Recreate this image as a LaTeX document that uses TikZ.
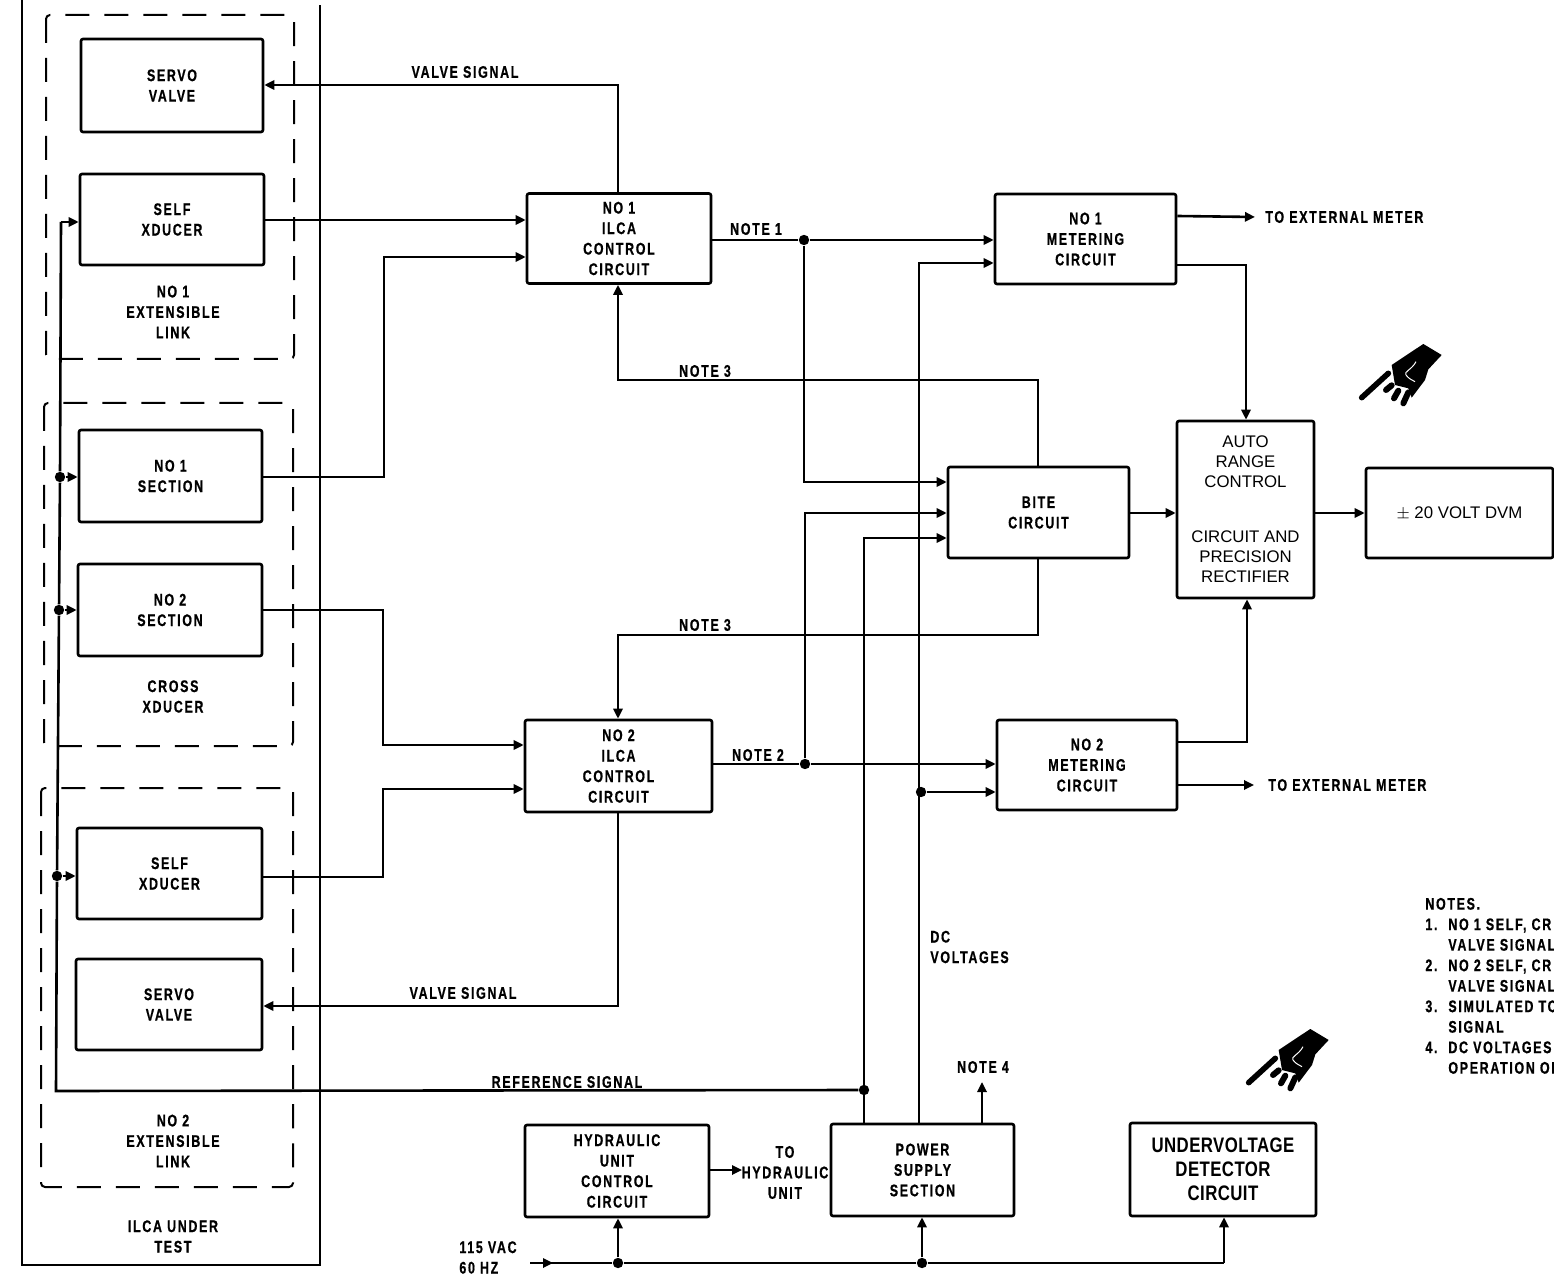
\documentclass[tikz,border=0pt]{standalone}
\usepackage{fontspec}
\setmainfont{Liberation Sans}
\newfontfamily\lblfont{Liberation Sans}[FakeStretch=0.74,LetterSpace=10,BoldFeatures={FakeBold=0.7}]
\newfontfamily\bigfont{Liberation Sans}[FakeStretch=0.8,LetterSpace=2]
\usetikzlibrary{arrows.meta}
\tikzset{
  wire/.style={line width=1.3pt,line join=miter},
  arr/.style={wire,-{Triangle[length=5pt,width=4.6pt]}},
  lbl/.style={font=\lblfont\fontsize{8.4}{10.25}\selectfont\bfseries,align=center,inner sep=0pt},
  box/.style 2 args={draw,line width=1.3pt,rounded corners=1pt,minimum width=#1*0.5pt,minimum height=#2*0.5pt,inner sep=0pt,lbl},
  plainbox/.style 2 args={box={#1}{#2},font=\fontsize{8.4}{10}\selectfont},
  bigbox/.style 2 args={box={#1}{#2},font=\bigfont\fontsize{10.5}{12}\selectfont\bfseries},
  jdot/.style={circle,fill=black,draw=none,minimum size=5.2pt,inner sep=0pt},
  dashbox/.style={draw,line width=1pt,dash pattern=on 12pt off 7.5pt,rounded corners=2pt},
}
\newcommand{\handicon}[2]{%
  \begin{scope}[shift={(#1,#2)},x=0.16667pt,y=-0.16667pt]
    \fill (250,42)--(305,75)--(265,118)--(255,150)--(215,203)--(205,175)--(165,165)--(155,105)--(215,65)--cycle;
    \draw[line width=2.8pt,line cap=round] (65,203)--(145,130);
    \draw[line width=3pt,line cap=round] (138,180)--(155,166);
    \draw[line width=3pt,line cap=round] (162,205)--(175,182);
    \draw[line width=3pt,line cap=round] (190,220)--(205,187);
    \draw[white,line width=0.5pt] (228,95)..controls (215,120) and (190,125) ..(198,135)..controls (205,145) and (215,150) ..(225,155);
  \end{scope}}
\begin{document}
\begin{tikzpicture}[x=0.5pt,y=-0.5pt]
\useasboundingbox (0,0) rectangle (1554,1278);
\clip (0,0) rectangle (1554,1278);

% enclosing outline and dashed groups
\coordinate (ta) at (22,0);
\coordinate (tb) at (22,1265);
\coordinate (tc) at (320,1265);
\coordinate (td) at (320,5);
\draw[line width=1pt] (ta)--(tb)--(tc)--(td);
\draw[dashbox] (46,15) rectangle (294,359);
\draw[dashbox] (44,403) rectangle (293,746);
\draw[dashbox] (41,788) rectangle (293,1187);

% boxes
\node[box={182}{93}] (servoA) at (172,85.5) {SERVO\\VALVE};
\node[box={184}{91}] (selfA) at (172,219.5) {SELF\\XDUCER};
\node[box={183}{92}] (secA) at (170.5,476) {NO 1\\SECTION};
\node[box={184}{92}] (secB) at (170,610) {NO 2\\SECTION};
\node[box={185}{91}] (selfB) at (169.5,873.5) {SELF\\XDUCER};
\node[box={186}{91}] (servoB) at (169,1004.5) {SERVO\\VALVE};
\node[box={184}{90}] (ilcaA) at (619,238.5) {NO 1\\ILCA\\CONTROL\\CIRCUIT};
\node[box={187}{92}] (ilcaB) at (618.5,766) {NO 2\\ILCA\\CONTROL\\CIRCUIT};
\node[box={181}{90}] (metA) at (1085.5,239) {NO 1\\METERING\\CIRCUIT};
\node[box={180}{90}] (metB) at (1087,765) {NO 2\\METERING\\CIRCUIT};
\node[box={181}{91}] (bite) at (1038.5,512.5) {BITE\\CIRCUIT};
\node[plainbox={137}{177},align=center] (auto) at (1245.5,509.5) {AUTO\\RANGE\\CONTROL\\[17.5pt]CIRCUIT AND\\PRECISION\\RECTIFIER};
\node[plainbox={187}{90}] (dvm) at (1459.5,513) {$\pm$ 20 VOLT DVM};
\node[box={184}{92}] (hyd) at (617,1171) {HYDRAULIC\\UNIT\\CONTROL\\CIRCUIT};
\node[box={183}{92}] (psu) at (922.5,1170) {POWER\\SUPPLY\\SECTION};
\node[bigbox={186}{93}] (uv) at (1223,1169.5) {UNDERVOLTAGE\\DETECTOR\\CIRCUIT};

% free labels
\node[lbl] (lA) at (173,312) {NO 1\\EXTENSIBLE\\LINK};
\node[lbl] (lB) at (173,696.5) {CROSS\\XDUCER};
\node[lbl] (lC) at (173,1141) {NO 2\\EXTENSIBLE\\LINK};
\node[lbl] (lD) at (173,1236.5) {ILCA UNDER\\TEST};
\node[lbl] (vsA) at (465,72) {VALVE SIGNAL};
\node[lbl] (vsB) at (463,993) {VALVE SIGNAL};
\node[lbl] (n1) at (756,229) {NOTE 1};
\node[lbl] (n2) at (758,755) {NOTE 2};
\node[lbl] (n3a) at (705,371) {NOTE 3};
\node[lbl] (n3b) at (705,625) {NOTE 3};
\node[lbl,anchor=west] (extA) at (1265,217) {TO EXTERNAL METER};
\node[lbl,anchor=west] (extB) at (1268,785) {TO EXTERNAL METER};
\node[lbl,anchor=west,align=left] (dc) at (930,947) {DC\\VOLTAGES};
\node[lbl] (n4) at (983,1067) {NOTE 4};
\node[lbl] (ref) at (567,1082) {REFERENCE SIGNAL};
\node[lbl] (tohyd) at (785,1172.5) {TO\\HYDRAULIC\\UNIT};
\node[lbl,anchor=west,align=left] (vac) at (459,1257.5) {115 VAC\\60 HZ};
\node[lbl,anchor=north west,align=left] (notes) at (1425,897.5) {NOTES.\\
  \makebox[11.5pt][l]{1.}NO 1 SELF, CR\\
  \makebox[11.5pt][l]{}VALVE SIGNAL\\
  \makebox[11.5pt][l]{2.}NO 2 SELF, CR\\
  \makebox[11.5pt][l]{}VALVE SIGNAL\\
  \makebox[11.5pt][l]{3.}SIMULATED TO\\
  \makebox[11.5pt][l]{}SIGNAL\\
  \makebox[11.5pt][l]{4.}DC VOLTAGES F\\
  \makebox[11.5pt][l]{}OPERATION OF};

% junctions
\node[jdot] (jA) at (804,240) {};
\node[jdot] (jB) at (805,764) {};
\node[jdot] (jP) at (921,792) {};
\node[jdot] (jR) at (864,1090) {};
\node[jdot] (jH) at (618,1263) {};
\node[jdot] (jS) at (922,1263) {};
\node[jdot] (bA) at (60,477) {};
\node[jdot] (bB) at (59,610) {};
\node[jdot] (bC) at (57,876) {};
\coordinate (bT) at (61,222);
\coordinate (bE) at (56,1091);

% reference bus
\draw[wire] (bT)--(bA)--(bB)--(bC)--(bE)--(jR);
\draw[arr] (bT)--(selfA.west |- bT);
\draw[arr] (bA)--(secA.west |- bA);
\draw[arr] (bB)--(secB.west |- bB);
\draw[arr] (bC)--(selfB.west |- bC);

% ILCA connections
\draw[arr] (ilcaA.north -| 618,0)--(618,85)--(servoA.east |- 0,85);
\draw[arr] (selfA.east |- 0,220)--(ilcaA.west |- 0,220);
\draw[arr] (secA.east |- 0,477)--(384,477)--(384,257)--(ilcaA.west |- 0,257);
\draw[arr] (secB.east |- 0,610)--(383,610)--(383,745)--(ilcaB.west |- 0,745);
\draw[arr] (selfB.east |- 0,877)--(383,877)--(383,789)--(ilcaB.west |- 0,789);
\draw[arr] (ilcaB.south -| 618,0)--(618,1006)--(servoB.east |- 0,1006);

% control to metering and BITE
\draw[wire] (ilcaA.east |- jA)--(jA);
\draw[arr] (jA)--(metA.west |- jA);
\draw[arr] (jA)--(804,482)--(bite.west |- 0,482);
\draw[wire] (ilcaB.east |- jB)--(jB);
\draw[arr] (jB)--(metB.west |- jB);
\draw[arr] (jB)--(805,513)--(bite.west |- 0,513);

% power supply
\draw[arr] (psu.north -| 919,0)--(919,263)--(metA.west |- 0,263);
\draw[arr] (jP)--(metB.west |- jP);
\draw[arr] (psu.north -| 864,0)--(864,538)--(bite.west |- 0,538);
\draw[arr] (psu.north -| 982,0)--(982,1082);

% BITE notes
\draw[arr] (bite.north -| 1038,0)--(1038,380)--(618,380)--(ilcaA.south -| 618,0);
\draw[arr] (bite.south -| 1038,0)--(1038,635)--(618,635)--(ilcaB.north -| 618,0);

% right side
\draw[arr] (bite.east |- 0,513)--(auto.west |- 0,513);
\draw[arr] (auto.east |- 0,513)--(dvm.west |- 0,513);
\draw[arr] (metA.east |- 0,265)--(1246,265)--(auto.north -| 1246,0);
\draw[arr] (metB.east |- 0,742)--(1247,742)--(auto.south -| 1247,0);
\draw[arr] (metA.east |- 0,216)--(extA.west -| 1255,0);
\draw[arr] (metB.east |- 0,785)--(extB.west -| 1254,0);

% bottom
\draw[arr] (hyd.east |- 0,1170)--(742,1170);
\coordinate (acIn) at (530,1263);
\coordinate (acEnd) at (1224,1263);
\draw[wire] (acIn)--(jH)--(jS)--(acEnd);
\draw[arr] (acIn)--(553,1263);
\draw[arr] (jH)--(hyd.south -| jH);
\draw[arr] (jS)--(psu.south -| jS);
\draw[arr] (acEnd)--(uv.south -| acEnd);

\handicon{1340}{330}
\handicon{1227}{1015}
\end{tikzpicture}
\end{document}
